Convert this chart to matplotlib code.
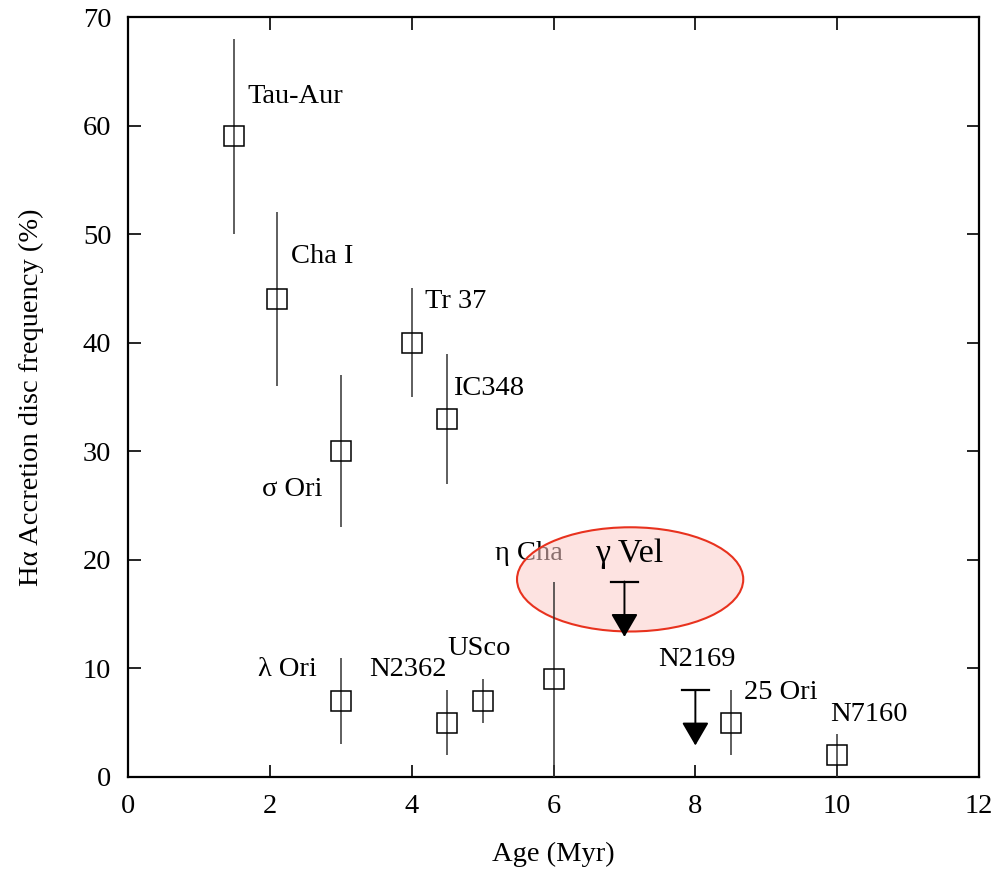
import matplotlib
matplotlib.use('Agg')
import matplotlib.pyplot as plt
from matplotlib.patches import Ellipse

# ── Data ────────────────────────────────────────────────────────────────
names  = ['Tau-Aur', 'Cha I', 'σ Ori', 'Tr 37', 'IC348', 'λ Ori',
          'N2362', 'USco', 'η Cha', '25 Ori', 'N7160']
ages   = [1.5, 2.1, 3.0, 4.0, 4.5, 3.0, 4.5, 5.0, 6.0, 8.5, 10.0]
freq   = [59, 44, 30, 40, 33, 7, 5, 7, 9, 5, 2]
err_lo = [9, 8, 7, 5, 6, 4, 3, 2, 9, 3, 2]
err_hi = [9, 8, 7, 5, 6, 4, 3, 2, 9, 3, 2]

# upper limits
lim_names = ['γ Vel', 'N2169']
lim_ages  = [7.0, 8.0]
lim_vals  = [18, 8]

# label positions (data coords, left-aligned, vertically centred)
label_x = [1.69, 2.30, 1.89, 4.19, 4.58, 1.83, 3.40, 4.50, 5.18, 8.69, 9.90]
label_y = [62.7, 47.9, 26.5, 43.8, 35.8, 9.9, 9.9, 11.8, 20.6, 7.8, 5.8]
lim_label_x = [6.59, 7.48]
lim_label_y = [20.6, 10.8]

SERIF = ['Liberation Serif', 'DejaVu Serif']
plt.rcParams['font.family'] = SERIF

fig = plt.figure(figsize=(9.98, 8.69), dpi=100)
ax = fig.add_axes([0.1283, 0.1059, 0.981 - 0.1283, 0.9804 - 0.1059])

# highlight ellipse around gamma Vel (semi-transparent so eta Cha shows through)
ax.add_patch(Ellipse((7.08, 18.2), 3.19, 9.6, facecolor=(0.99, 0.80, 0.79, 0.55),
                     edgecolor='#e8321e', linewidth=1.5, zorder=2))

ax.errorbar(ages, freq, yerr=[err_lo, err_hi], fmt='s', ms=14,
            mfc='none', mec='black', mew=1.1, ecolor='#333333',
            elinewidth=1.1, capsize=0, zorder=3)

ARROW_LEN = 5.1
for x, v in zip(lim_ages, lim_vals):
    ax.plot([x - 0.19, x + 0.19], [v, v], color='black', lw=1.6, zorder=4)
    ax.annotate('', xy=(x, v - ARROW_LEN), xytext=(x, v),
                arrowprops=dict(arrowstyle='-|>,head_width=0.42,head_length=0.72',
                                mutation_scale=20, color='black', lw=1.4,
                                shrinkA=0, shrinkB=0), zorder=4)

for n, tx, ty in zip(names, label_x, label_y):
    ax.text(tx, ty, n, fontsize=20.5, va='center', ha='left',
            zorder=1 if n == 'η Cha' else 5)
for n, tx, ty in zip(lim_names, lim_label_x, lim_label_y):
    ax.text(tx, ty, n, fontsize=20.5 if n == 'N2169' else 24.5,
            va='center', ha='left', zorder=5)

ax.set_xlim(0, 12)
ax.set_ylim(0, 70)
ax.set_xticks(range(0, 13, 2))
ax.set_yticks(range(0, 71, 10))
ax.tick_params(direction='in', length=9, width=1.2, top=True, right=True,
               labelsize=20.5, pad=12)
for s in ax.spines.values():
    s.set_linewidth(1.6)

ax.set_xlabel('Age (Myr)', fontsize=20.5, labelpad=17)
ax.set_ylabel('Hα Accretion disc frequency (%)', fontsize=20.5, labelpad=28)

fig.savefig('out.png', dpi=100)
